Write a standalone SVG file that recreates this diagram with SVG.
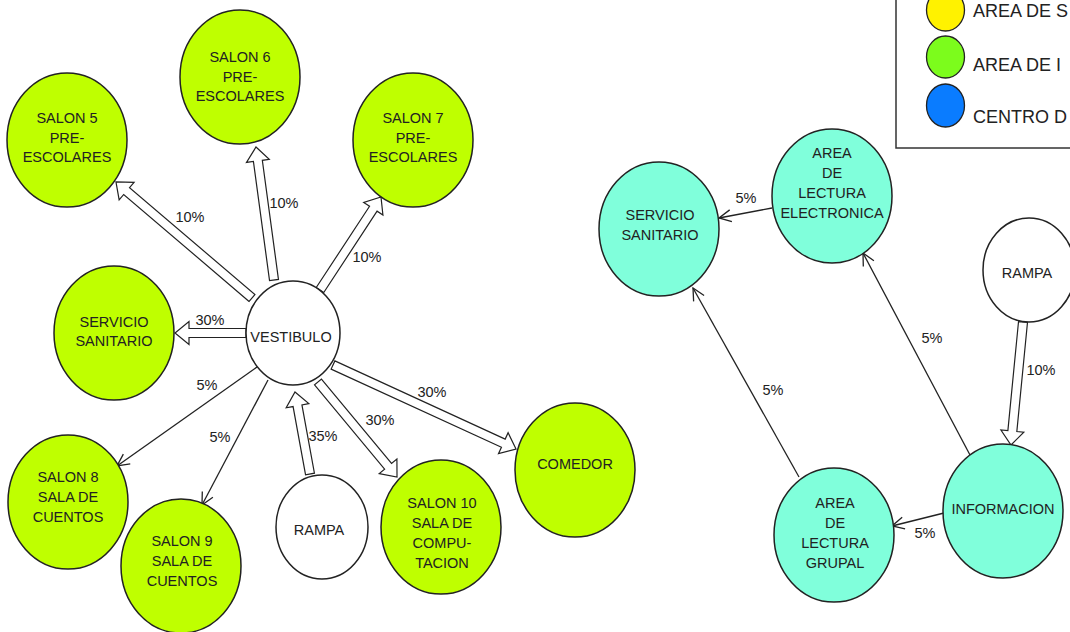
<svg xmlns="http://www.w3.org/2000/svg" width="1070" height="632" viewBox="0 0 1070 632">
<defs>
<style>
.g{fill:#bfff00;stroke:#222;stroke-width:1.5}
.c{fill:#80ffdb;stroke:#222;stroke-width:1.5}
.w{fill:#fff;stroke:#222;stroke-width:1.5}
.t{font-family:"Liberation Sans",Arial,sans-serif;font-size:14.5px;fill:#222;text-anchor:middle}
.l{font-family:"Liberation Sans",Arial,sans-serif;font-size:14.5px;fill:#222}
.lg{font-family:"Liberation Sans",Arial,sans-serif;font-size:18px;fill:#222}
.ba{fill:#fff;stroke:#222;stroke-width:1.2;stroke-linejoin:miter}
.ln{fill:none;stroke:#222;stroke-width:1.3;marker-end:url(#oh)}
</style>
<marker id="oh" markerUnits="userSpaceOnUse" markerWidth="16" markerHeight="16" viewBox="-14 -8 16 16" refX="0" refY="0" orient="auto">
<path d="M-12,-6 L0,0 L-12,6" fill="none" stroke="#222" stroke-width="1.3"/>
</marker>
</defs>
<rect width="1070" height="632" fill="#fff"/>

<g id="legend">
<rect x="896" y="-2" width="180" height="150" fill="#fff" stroke="#333" stroke-width="1.5"/>
<ellipse cx="945.5" cy="10" rx="19" ry="21" fill="#fff200" stroke="#222" stroke-width="1.3"/>
<ellipse cx="945.5" cy="57" rx="19" ry="21" fill="#7cfc1c" stroke="#222" stroke-width="1.3"/>
<ellipse cx="945.5" cy="105.5" rx="19" ry="21.5" fill="#0a7cff" stroke="#222" stroke-width="1.3"/>
<text class="lg" x="973" y="17">AREA DE S</text>
<text class="lg" x="973" y="71">AREA DE I</text>
<text class="lg" x="973" y="123">CENTRO D</text>
</g>

<g id="connectors">
<polygon class="ba" transform="translate(252,298) rotate(-139.54)" points="0,-4.5 164.8,-4.5 164.8,-11.5 178.8,0 164.8,11.5 164.8,4.5 0,4.5"/>
<polygon class="ba" transform="translate(274,280) rotate(-97.71)" points="0,-4.5 120.2,-4.5 120.2,-11.5 134.2,0 120.2,11.5 120.2,4.5 0,4.5"/>
<polygon class="ba" transform="translate(320,290) rotate(-56.74)" points="0,-4.5 97.2,-4.5 97.2,-11.5 111.2,0 97.2,11.5 97.2,4.5 0,4.5"/>
<polygon class="ba" transform="translate(246,333) rotate(180)" points="0,-4.5 57,-4.5 57,-11.5 71,0 57,11.5 57,4.5 0,4.5"/>
<polygon class="ba" transform="translate(310,474) rotate(-100.37)" points="0,-4.5 69.4,-4.5 69.4,-11.5 83.4,0 69.4,11.5 69.4,4.5 0,4.5"/>
<polygon class="ba" transform="translate(318,382) rotate(50.26)" points="0,-4.5 109.6,-4.5 109.6,-11.5 123.6,0 109.6,11.5 109.6,4.5 0,4.5"/>
<polygon class="ba" transform="translate(333,365) rotate(24.66)" points="0,-4.5 187.4,-4.5 187.4,-11.5 201.4,0 187.4,11.5 187.4,4.5 0,4.5"/>
<polygon class="ba" transform="translate(1023,322) rotate(95.57)" points="0,-4.5 109.6,-4.5 109.6,-11.5 123.6,0 109.6,11.5 109.6,4.5 0,4.5"/>
<line class="ln" x1="257" y1="367" x2="117" y2="466"/>
<line class="ln" x1="268" y1="380" x2="202" y2="505"/>
<line class="ln" x1="772" y1="208" x2="719" y2="218"/>
<line class="ln" x1="970" y1="455" x2="863" y2="253"/>
<line class="ln" x1="799" y1="477" x2="693" y2="288"/>
<line class="ln" x1="944" y1="513" x2="892" y2="526"/>
<text class="t" x="190" y="222">10%</text>
<text class="t" x="284" y="208">10%</text>
<text class="t" x="367" y="262">10%</text>
<text class="t" x="210" y="325">30%</text>
<text class="t" x="207" y="390">5%</text>
<text class="t" x="220" y="442">5%</text>
<text class="t" x="323" y="441">35%</text>
<text class="t" x="380" y="425">30%</text>
<text class="t" x="432" y="397">30%</text>
<text class="t" x="746" y="203">5%</text>
<text class="t" x="932" y="343">5%</text>
<text class="t" x="773" y="395">5%</text>
<text class="t" x="925" y="538">5%</text>
<text class="t" x="1041" y="375">10%</text>
</g>

<g id="salon5"><ellipse class="g" cx="67" cy="140" rx="60" ry="67"/>
<text class="t" x="67" y="123">SALON 5</text><text class="t" x="67" y="143">PRE-</text><text class="t" x="67" y="162">ESCOLARES</text></g>
<g id="salon6"><ellipse class="g" cx="240" cy="77" rx="60" ry="67"/>
<text class="t" x="240" y="62">SALON 6</text><text class="t" x="240" y="82">PRE-</text><text class="t" x="240" y="101">ESCOLARES</text></g>
<g id="salon7"><ellipse class="g" cx="413" cy="140" rx="60" ry="67"/>
<text class="t" x="413" y="123">SALON 7</text><text class="t" x="413" y="143">PRE-</text><text class="t" x="413" y="162">ESCOLARES</text></g>
<g id="servicio1"><ellipse class="g" cx="114" cy="333" rx="60" ry="67"/>
<text class="t" x="114" y="327">SERVICIO</text><text class="t" x="114" y="346">SANITARIO</text></g>
<g id="vestibulo"><ellipse class="w" cx="293" cy="333" rx="47" ry="52"/>
<text class="t" x="291" y="342">VESTIBULO</text></g>
<g id="salon8"><ellipse class="g" cx="68" cy="502" rx="60" ry="67"/>
<text class="t" x="68" y="482">SALON 8</text><text class="t" x="68" y="502">SALA DE</text><text class="t" x="68" y="522">CUENTOS</text></g>
<g id="salon9"><ellipse class="g" cx="181" cy="566" rx="60" ry="67"/>
<text class="t" x="182" y="546">SALON 9</text><text class="t" x="182" y="566">SALA DE</text><text class="t" x="182" y="586">CUENTOS</text></g>
<g id="rampa1"><ellipse class="w" cx="322" cy="527" rx="46" ry="52"/>
<text class="t" x="319" y="535">RAMPA</text></g>
<g id="salon10"><ellipse class="g" cx="441" cy="527" rx="60" ry="67"/>
<text class="t" x="442" y="508">SALON 10</text><text class="t" x="442" y="528">SALA DE</text><text class="t" x="442" y="548">COMPU-</text><text class="t" x="442" y="568">TACION</text></g>
<g id="comedor"><ellipse class="g" cx="575" cy="470" rx="60" ry="67"/>
<text class="t" x="575" y="469">COMEDOR</text></g>

<g id="servicio2"><ellipse class="c" cx="659" cy="229" rx="60" ry="67"/>
<text class="t" x="660" y="220">SERVICIO</text><text class="t" x="660" y="240">SANITARIO</text></g>
<g id="electronica"><ellipse class="c" cx="832" cy="196" rx="60" ry="67"/>
<text class="t" x="832" y="158">AREA</text><text class="t" x="832" y="178">DE</text><text class="t" x="832" y="198">LECTURA</text><text class="t" x="832" y="218">ELECTRONICA</text></g>
<g id="rampa2"><ellipse class="w" cx="1029" cy="270" rx="46" ry="52"/>
<text class="t" x="1027" y="278">RAMPA</text></g>
<g id="informacion"><ellipse class="c" cx="1003" cy="511" rx="60" ry="67"/>
<text class="t" x="1003" y="514">INFORMACION</text></g>
<g id="grupal"><ellipse class="c" cx="834" cy="535" rx="60" ry="67"/>
<text class="t" x="835" y="508">AREA</text><text class="t" x="835" y="528">DE</text><text class="t" x="835" y="548">LECTURA</text><text class="t" x="835" y="568">GRUPAL</text></g>
</svg>
